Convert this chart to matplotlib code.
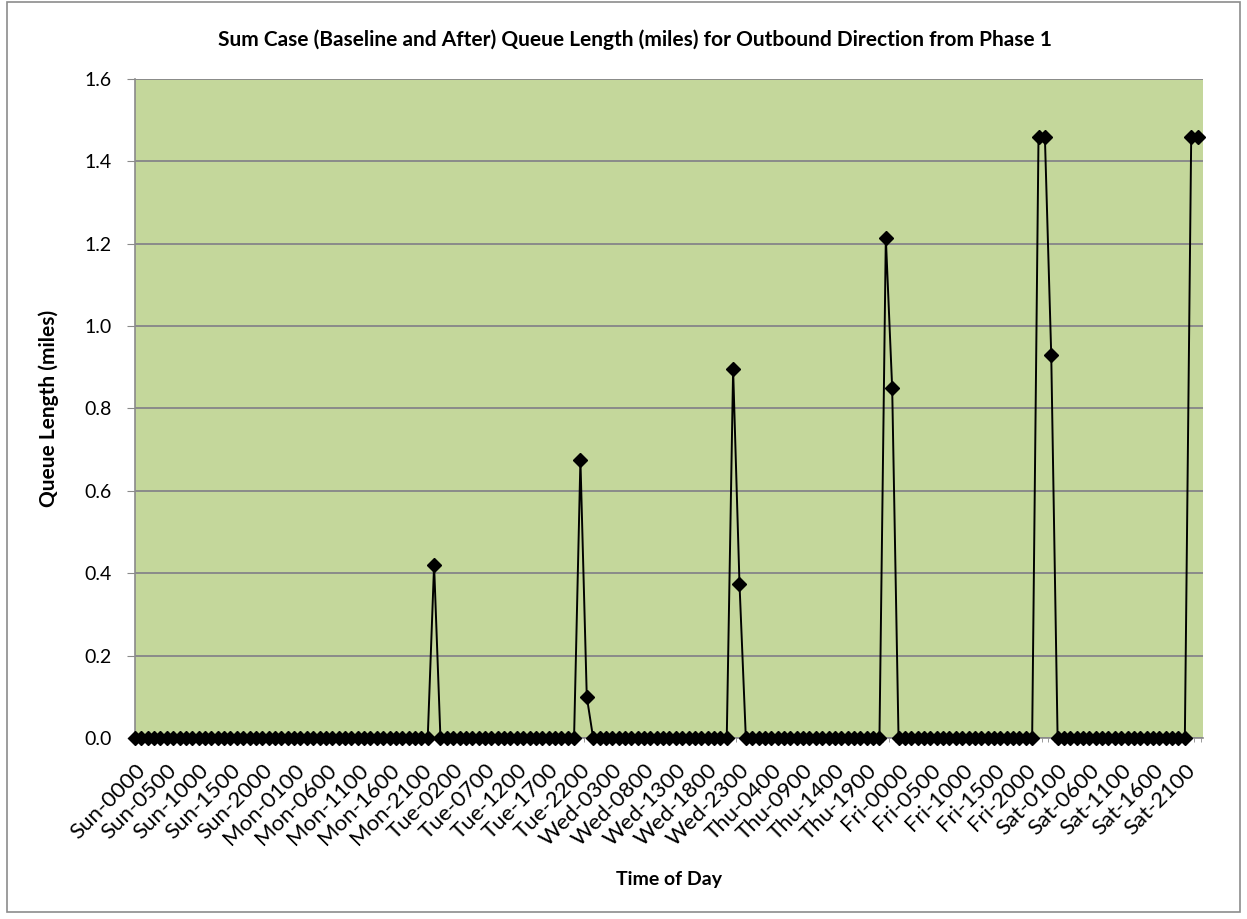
import matplotlib.pyplot as plt
from matplotlib.patches import Rectangle

plt.rcParams['font.family'] = ['Lato', 'DejaVu Sans']

# Hourly categories for one week, Sun-0000 .. Sat-2300
days = ["Sun", "Mon", "Tue", "Wed", "Thu", "Fri", "Sat"]
hours = [f"{day}-{h:02d}00" for day in days for h in range(24)]

# Hours with a queue; every other hour is zero
peak_hours = ["Mon-2300", "Tue-2200", "Tue-2300", "Wed-2200", "Wed-2300",
              "Thu-2200", "Thu-2300", "Fri-2200", "Fri-2300", "Sat-0000",
              "Sat-2200", "Sat-2300"]
peak_miles = [0.42, 0.675, 0.10, 0.895, 0.375,
              1.215, 0.85, 1.46, 1.46, 0.93,
              1.46, 1.46]

queue = [0.0] * len(hours)
for h, v in zip(peak_hours, peak_miles):
    queue[hours.index(h)] = v

x = list(range(len(hours)))

fig = plt.figure(figsize=(12.47, 9.19), dpi=100)
ax = fig.add_axes([0.1083, 0.1970, 0.8564, 0.7170])

# chart area border
fig.patches.append(Rectangle((7 / 1247, 7 / 919), 1233 / 1247, 910 / 919,
                             transform=fig.transFigure, fill=False,
                             edgecolor="#8c8c8c", linewidth=1.2))

ax.set_facecolor("#C4D79B")
ax.plot(x, queue, color="black", linewidth=1.4, marker="D",
        markersize=7.5, clip_on=False, zorder=3)

ax.set_xlim(0.3, 167.85)
ax.set_ylim(0, 1.6)
ax.set_yticks([0.0, 0.2, 0.4, 0.6, 0.8, 1.0, 1.2, 1.4, 1.6])
ax.set_yticklabels([f"{v:.1f}" for v in ax.get_yticks()])
ax.yaxis.grid(True, color="#8a8a8a", linewidth=1.4)
ax.set_axisbelow(True)

ax.set_xticks(x[::5])
ax.set_xticklabels(hours[::5], rotation=45, ha="right",
                   rotation_mode="anchor")
ax.set_xticks([i + 0.5 for i in x], minor=True)

for side in ["top", "right"]:
    ax.spines[side].set_visible(False)
for side in ["left", "bottom"]:
    ax.spines[side].set_color("#8a8a8a")
    ax.spines[side].set_linewidth(1.2)

ax.tick_params(axis="y", labelsize=14, length=6, color="#8a8a8a", pad=11)
ax.tick_params(axis="x", which="major", labelsize=16, length=0, pad=16)
ax.tick_params(axis="x", which="minor", length=3, color="#8a8a8a")

ax.set_xlabel("Time of Day", fontsize=14, fontweight="bold", labelpad=15)
ax.set_ylabel("Queue Length (miles)", fontsize=15, fontweight="bold",
              labelpad=18)
fig.text(0.5 * (201 + 1069) / 1247, 1 - 40 / 919,
         "Sum Case (Baseline and After) Queue Length (miles) for Outbound Direction from Phase 1",
         ha="center", va="center", fontsize=15, fontweight="bold")

fig.savefig("out.png", dpi=100)
